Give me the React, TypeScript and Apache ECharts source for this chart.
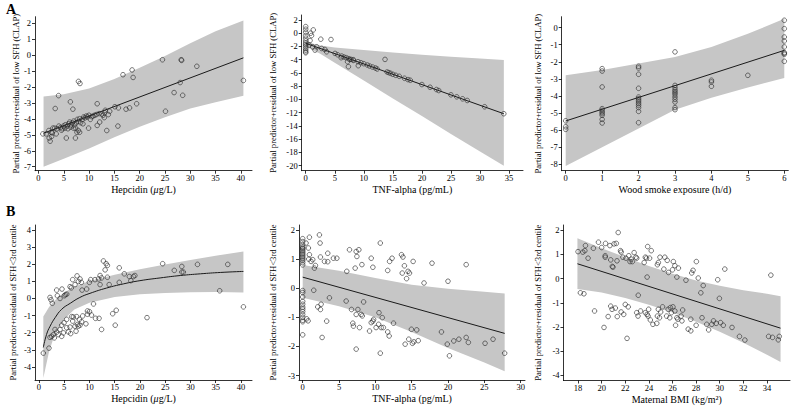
import React, { useEffect, useRef } from "react";
import * as echarts from "echarts";

// ---------- Panel A1: Hepcidin vs low SFH (CLAP) ----------
const a1Points: number[][] = [
  [0.86, -4.94], [3.97, -2.54], [3.3, -3.35], [7.9, -1.65], [8.2, -1.78], [6.3, -2.93], [6.8, -3.39],
  [11.6, -3.05], [16.7, -1.23], [18.5, -0.93], [18.7, -1.4], [24.5, -0.29], [28.2, -0.29], [28.3, -0.33],
  [31.3, -0.7], [28.0, -1.72], [26.8, -2.35], [28.5, -2.52], [40.5, -1.59], [19.4, -3.05], [25.1, -3.52],
  [18.0, -3.31], [17.3, -3.39], [15.8, -3.31], [15.1, -3.24], [15.7, -4.45], [13.5, -4.73], [13.8, -3.73],
  [13.0, -3.92], [13.2, -3.46], [11.6, -4.41], [12.1, -4.2], [9.9, -4.58], [7.3, -5.2], [5.5, -5.2],
  [2.1, -5.2], [2.3, -5.4], [2.6, -5.1],
  [1.52, -4.94], [2.05, -4.73], [2.51, -4.84], [2.84, -4.58], [3.17, -4.58], [3.64, -4.62], [4.03, -4.45],
  [4.36, -4.54], [4.69, -4.62], [4.96, -4.45], [5.29, -4.37], [5.69, -4.45], [5.95, -4.31], [6.15, -4.2],
  [6.35, -4.52], [6.68, -4.24], [6.94, -4.14], [7.14, -4.37], [7.47, -4.24], [7.67, -4.03], [7.87, -4.16],
  [8.13, -3.99], [8.33, -4.24], [8.66, -4.03], [8.93, -3.88], [9.19, -3.94], [9.45, -3.82], [9.72, -3.88],
  [9.98, -3.77], [10.25, -4.03], [10.51, -3.86], [10.78, -3.82], [11.11, -3.77], [11.44, -3.73], [11.97, -3.67],
  [12.5, -3.69], [12.76, -3.77], [13.09, -3.61], [14.08, -3.52], [7.87, -4.73], [7.6, -4.84], [8.13, -4.84],
  [5.22, -4.58], [4.56, -4.71], [2.71, -4.88], [3.5, -4.94], [5.82, -4.62], [6.94, -4.58], [6.48, -4.37],
  [7.34, -4.58], [8.79, -4.31],
];
const a1Line: number[][] = [[1, -4.9], [40.5, -0.17]];
const a1BandX = [1, 5, 10, 15, 20, 25, 30, 35, 40.5];
const a1BandUp = [-2.6, -2.45, -2.1, -1.5, -0.8, -0.05, 0.75, 1.5, 2.17];
const a1BandLo = [-7.0, -6.5, -5.85, -5.15, -4.5, -3.9, -3.35, -2.95, -2.55];

// ---------- Panel A2: TNF-alpha vs low SFH (CLAP) ----------
const a2Points: number[][] = [
  [0, 1.0], [0, 0.6], [0, 0.15], [0, -0.35], [0, -0.75], [0, -1.15], [0, -1.5], [0, -1.75], [0, -2.0],
  [0, -2.3], [0, -2.55], [0, -2.8], [0, -2.95],
  [0.85, 0.0], [1.0, -0.35], [1.3, 0.5], [0.75, -1.1], [0.6, -1.8], [1.2, -2.05], [1.6, -2.55], [2.6, -0.9],
  [4.35, -0.95], [2.75, -2.3], [1.9, -2.05], [3.3, -2.45], [3.6, -2.8], [5.05, -3.05], [13.65, -3.95],
  [7.35, -5.05], [9.05, -4.9], [6.1, -3.7], [7.2, -4.3], [7.6, -3.95], [8.2, -4.0],
  [5.5, -3.25], [6.2, -3.45], [6.6, -3.6], [7.0, -3.7], [7.4, -3.85], [7.8, -3.95], [8.2, -4.1], [9.0, -4.3],
  [9.5, -4.45], [10.0, -4.6], [10.6, -4.8], [11.0, -4.95], [11.5, -5.1], [12.0, -5.25], [12.3, -5.4],
  [14.0, -5.85], [14.3, -5.95], [14.6, -6.05], [15.0, -6.2], [15.5, -6.35], [16.1, -6.5], [17.0, -6.8],
  [17.6, -7.0], [18.0, -7.1], [20.0, -7.75], [21.4, -8.15], [22.5, -8.5], [22.9, -8.65], [25.0, -9.3],
  [26.0, -9.6], [27.0, -9.9], [27.8, -10.15], [30.8, -11.1], [34.1, -12.15],
];
const a2Line: number[][] = [[0, -1.52], [34.1, -12.15]];
const a2BandX = [0, 1, 2.5, 5, 10, 15, 20, 25, 30, 34.1];
const a2BandUp = [-1.15, -1.5, -1.85, -2.15, -2.55, -2.9, -3.25, -3.55, -3.8, -4.05];
const a2BandLo = [-1.95, -2.45, -3.1, -4.45, -7.15, -9.85, -12.5, -15.2, -17.85, -20.0];

// ---------- Panel A3: Wood smoke vs low SFH (CLAP) ----------
const a3Points: number[][] = [
  [0, -5.45], [0, -5.8], [0, -5.95],
  [1, -2.4], [1, -2.54], [1, -3.47], [1, -4.74], [1, -4.84], [1, -4.94], [1, -5.03], [1, -5.13], [1, -5.37], [1, -5.58],
  [2, -2.26], [2, -2.36], [2, -2.73], [2, -3.55], [2, -4.06], [2, -4.16], [2, -4.25], [2, -4.35], [2, -4.45],
  [2, -4.55], [2, -4.68], [2, -4.9], [2, -5.56],
  [3, -1.42], [3, -3.38], [3, -3.51], [3, -3.63], [3, -3.73], [3, -3.82], [3, -3.92], [3, -4.06], [3, -4.2],
  [3, -4.35], [3, -4.68], [3, -4.8],
  [4, -3.08], [4, -3.18], [4, -3.43],
  [5, -2.79],
  [6, 0.43], [6, -0.06], [6, -0.55], [6, -0.78], [6, -1.13], [6, -1.46], [6, -1.5], [6, -1.56], [6, -1.97],
];
const a3Line: number[][] = [[0, -5.46], [6, -1.33]];
const a3BandX = [0, 1, 2, 3, 4, 5, 6];
const a3BandUp = [-2.78, -2.48, -2.1, -1.72, -1.13, -0.36, 0.52];
const a3BandLo = [-8.1, -7.0, -5.9, -4.8, -4.1, -3.5, -2.95];

// ---------- Panel B1: Hepcidin vs SFH<3rd centile ----------
const b1Points: number[][] = [
  [0.86, -3.19], [1.98, -2.9], [2.18, 0.06], [2.38, -0.08], [2.64, -0.28], [3.5, 0.49], [3.64, 0.16], [4.17, 0],
  [4.56, 0.55], [5.02, 0.16], [5.22, 0.22], [5.5, 0.25], [6.15, 0.69], [6.4, 0.62], [6.68, 1.1], [7.14, 0.81],
  [7.54, 1.32], [7.8, 0.99], [8.13, 1.14], [8.4, 0.94], [8.53, 0.49], [9.45, 0.55], [9.98, 0.94], [10.25, 1.1],
  [11.1, 1.1], [11.8, 1.14], [12.1, 0.81], [12.4, 1.2], [12.76, 2.19], [13.3, 2.03], [13.55, 1.93], [13.1, 1.67],
  [13.9, 0.81], [13.55, 1.24], [12.1, 1.34], [15.9, 0.94], [15.9, 1.79], [16.9, 1.44], [17.9, 1.28], [18.2, 1.04],
  [18.7, 1.28], [19.0, 1.34], [24.5, 2.03], [26.8, 1.64], [28.3, 1.87], [28.3, 1.54], [28.6, 1.54], [31.4, 1.99],
  [37.4, 1.99], [35.8, 0.45], [40.5, -0.49], [21.4, -1.12], [15.1, -1.56], [15.3, -0.69], [14.6, -0.89],
  [12.4, -1.81], [10.8, -0.32], [11.9, -1.16], [11.2, -1.16], [10.4, -0.97], [10.0, -0.77], [9.6, -0.92],
  [9.3, -1.48], [8.66, -1.02], [8.46, -1.36], [8.13, -1.56], [7.6, -1.52], [7.14, -1.62], [6.8, -1.08],
  [6.68, -1.32], [6.15, -1.67], [5.82, -1.95], [5.49, -1.71], [4.96, -1.42], [4.83, -2.01], [4.5, -1.56],
  [4.17, -1.81], [3.83, -2.11], [3.5, -1.97], [3.17, -1.81], [2.84, -2.11], [3.04, -2.3], [2.51, -2.21],
  [2.18, -2.27], [4.5, -2.21], [7.34, -1.91], [7.8, -1.62], [6.28, -2.05], [8.0, -1.22], [5.49, -1.22],
  [6.48, -1.06], [7.47, -1.06], [9.6, -0.73],
];
const b1CurveX = [0.86, 1.5, 2.2, 3.2, 4.5, 6.2, 8.1, 10.1, 13.4, 16.7, 20, 24, 28, 32, 36, 40.5];
const b1CurveY = [-2.86, -2.1, -1.62, -1.12, -0.63, -0.28, 0.06, 0.3, 0.61, 0.85, 1.04, 1.2, 1.34, 1.44, 1.52, 1.58];
const b1BandX = [0.86, 2, 3, 5, 7, 10, 15, 20, 25, 30, 35, 40.5];
const b1BandUp = [-1.05, -0.5, -0.15, 0.35, 0.68, 1.02, 1.38, 1.7, 1.98, 2.25, 2.5, 2.75];
const b1BandLo = [-4.65, -3.1, -2.2, -1.22, -0.65, -0.25, 0.08, 0.24, 0.32, 0.37, 0.38, 0.35];

// ---------- Panel B2: TNF-alpha vs SFH<3rd centile ----------
const b2Points: number[][] = [
  [0, 1.7], [0, 1.6], [0, 1.5], [0, 1.42], [0, 1.38], [0, 1.35], [0, 1.3], [0, 1.25], [0, 1.2], [0, 1.15],
  [0, 1.1], [0, 1.05], [0, 1.0], [0, 0.95], [0, 0.88], [0, 0.8], [0, -0.08], [0, -0.15], [0, -0.3], [0, -0.45],
  [0, -0.55], [0, -0.65], [0, -0.72], [0, -0.8], [0, -0.9], [0, -1.0], [0, -1.1], [0, -1.15], [0, -1.6],
  [0.92, 1.75], [0.46, 1.55], [0.78, 1.38], [0.92, 1.15], [1.15, 0.92], [0.83, 1.0], [1.38, 0.98], [1.61, 0.69],
  [1.75, 0.78], [1.52, -0.07], [0.55, -1.05], [0.74, -1.12], [2.3, 1.83], [2.39, 1.55], [2.44, 1.07], [3.0, 0.92],
  [3.45, 1.2], [3.45, 0.91], [3.68, -0.33], [4.23, 1.03], [4.7, 1.03], [2.07, -0.64], [2.44, -0.73], [2.53, -0.55],
  [2.67, -1.69], [3.3, -1.13], [6.44, 1.32], [6.07, 0.58], [5.98, -0.44], [6.72, -0.73], [6.9, -1.2], [6.98, -1.3],
  [7.36, 1.26], [7.46, 1.09], [7.73, 1.32], [7.22, 0.69], [8.15, 0.81], [8.38, -0.47], [7.36, -0.9], [7.6, -0.73],
  [8.05, -0.9], [8.2, -0.95], [7.82, -1.35], [7.36, -2.09], [9.43, 1.03], [9.66, 0.72], [9.76, -1.07], [9.66, -1.13],
  [9.2, -1.47], [9.43, -1.18], [10.68, 1.55], [10.5, -0.84], [10.45, -1.24], [10.68, -2.23], [10.8, -1.35],
  [10.95, -1.01], [10.1, -1.35], [11.1, -1.35], [11.7, 0.61], [11.96, 0.92], [12.3, 1.03], [11.7, -1.5],
  [11.9, -1.64], [12.5, -1.2], [13.6, 1.15], [13.8, 1.07], [13.7, 0.52], [14.0, 0.77], [14.3, 0.33], [14.5, 0.58],
  [14.7, 0.52], [15.2, 0.92], [14.1, -1.92], [14.6, -1.75], [15.1, -1.89], [15.3, -1.84], [15.9, -1.8],
  [14.96, -1.41], [15.7, -1.43], [16.7, 0.18], [17.8, 0.86], [19.1, -1.5], [20.0, 0.24], [19.9, -1.92],
  [20.2, -2.32], [20.8, -1.81], [21.5, -1.75], [22.5, 0.81], [22.5, -1.69], [22.8, -1.86], [25.1, -1.89],
  [26.2, -1.75], [27.8, -2.23],
];
const b2Line: number[][] = [[0, 0.38], [27.8, -1.55]];
const b2BandX = [0, 5, 10, 15, 20, 25, 27.8];
const b2BandUp = [0.8, 0.6, 0.35, 0.12, -0.02, -0.12, -0.18];
const b2BandLo = [-0.33, -0.62, -1.0, -1.5, -2.05, -2.55, -2.85];

// ---------- Panel B3: Maternal BMI vs SFH<3rd centile ----------
const b3Points: number[][] = [
  [18, 1.11], [18.41, 1.09], [18.58, 1.15], [18.63, 1.36], [18.85, 0.84], [18.2, -0.59], [18.5, -0.63],
  [19.4, -1.34], [19.73, 1.5], [19.3, 1.25], [20, 1.28], [20.33, 1.45], [20.7, 1.36], [21.05, 1.43],
  [21.24, 1.45], [21.4, 1.9], [21.6, 1.15], [21.65, 1.09], [20.3, 0.94], [20.3, 0.88], [20.77, 0.77],
  [20.9, 0.5], [20.96, 0.47], [21.3, 0.73], [21.8, 0.88], [22.06, 0.84], [22.3, 0.94], [22.5, 0.8],
  [22.4, 0.7], [22.6, 0.7], [22.75, 1.07], [22.9, 0.88], [22.97, 0.84], [20.77, -1.14], [20.2, -2.02],
  [20.55, -1.57], [20.88, -1.27], [21.16, -1.22], [21.32, -1.57], [21.65, -1.38], [21.87, -1.48], [22, -1.07],
  [22.25, -1.17], [22.15, -2.47], [23.1, -0.69], [22.97, -1.41], [23.08, -1.55], [23.3, -1.34], [23.6, 0.66],
  [23.7, 0.88], [23.8, 0.84], [23.85, 0.06], [23.9, 1.32], [24.06, 0.84], [24.2, 1.15], [23.98, -1.27],
  [23.7, -1.41], [23.85, -1.48], [23.93, -1.55], [24.12, -1.71], [24.34, -1.89], [24.67, -1.85], [24.8, -1.27],
  [24.72, 0.57], [24.8, 0.66], [24.94, 0.88], [24.72, -1.55], [24.9, -1.62], [25, -1.38], [25.16, -1.17],
  [25.27, 0.39], [25.35, 0.88], [25.55, 0.75], [25.66, 0.25], [25.5, -1.55], [25.63, -1.27], [25.82, -1.2],
  [25.9, -1.41], [25.77, -1.62], [26.04, -1.17], [26.2, -1.34], [26, 0.36], [26.07, 0.7], [26.2, 0.53],
  [26.37, 0.06], [26.37, -1.62], [26.45, -1.68], [26.26, -1.93], [26.73, -1.55], [26.86, -1.3], [26.5, 0.43],
  [26.8, -1.75], [27.14, -0.07], [27.33, -2.09], [27.55, -2.16], [27.63, 0.23], [27.74, 0.34], [27.55, -1.68],
  [28, -1.93], [28.02, 0.7], [28.18, 0.02], [28.4, -0.59], [28.6, -0.29], [28.5, -1.62], [28.9, -1.89],
  [29.06, -2.12], [29.33, -1.89], [29.47, -1.75], [29.7, -1.85], [29.83, -0.05], [29.97, -0.82], [30.07, -1.82],
  [30.3, -1.93], [30.43, 0.39], [31.04, -2.02], [31.67, -2.39], [32.13, -2.54], [34.14, -2.39], [34.47, -2.43],
  [34.33, 0.14], [35.04, -2.39], [34.96, -2.53],
];
const b3Line: number[][] = [[17.95, 0.61], [35.15, -2.05]];
const b3BandX = [17.95, 20, 22, 24, 26, 28, 30, 32, 34, 35.15];
const b3BandUp = [1.66, 1.25, 0.88, 0.52, 0.2, -0.08, -0.3, -0.48, -0.63, -0.73];
const b3BandLo = [-0.43, -0.58, -0.8, -1.08, -1.4, -1.78, -2.2, -2.65, -3.15, -3.45];

// ---------- Axis ticks ----------
const ticksHep = [0, 5, 10, 15, 20, 25, 30, 35, 40];
const ticksTnfA = [0, 5, 10, 15, 20, 25, 30, 35];
const ticksWood = [0, 1, 2, 3, 4, 5, 6];
const ticksTnfB = [0, 5, 10, 15, 20, 25, 30];
const ticksBmi = [18, 20, 22, 24, 26, 28, 30, 32, 34];
const yTicksA1 = [-7, -6, -5, -4, -3, -2, -1, 0, 1, 2];
const yTicksA2 = [-20, -18, -16, -14, -12, -10, -8, -6, -4, -2, 0, 2];
const yTicksA3 = [-8, -7, -6, -5, -4, -3, -2, -1, 0];
const yTicksB1 = [-4, -3, -2, -1, 0, 1, 2, 3, 4];
const yTicksB2 = [-3, -2, -1, 0, 1, 2];
const yTicksB3 = [-4, -3, -2, -1, 0, 1, 2];

const yNameA = "Partial predictor+residual of low SFH (CLAP)";
const yNameB = "Partial predictor+residual of SFH<3rd centile";

const FONT = "Liberation Serif";
const BAND = "#c6c6c6";

type Panel = {
  grid: { left: number; top: number; width: number; height: number };
  xr: [number, number];
  yr: [number, number];
  xt: number[];
  yt: number[];
  xName: string;
  yName: string;
  yGap: number;
  points: number[][];
  line: number[][];
  smooth?: boolean;
  bx: number[];
  bu: number[];
  bl: number[];
};

const panels: Panel[] = [
  {
    grid: { left: 35, top: 16.7, width: 217, height: 154 },
    xr: [-0.69, 42.2], yr: [-7.25, 2.41], xt: ticksHep, yt: yTicksA1,
    xName: "Hepcidin ({i|μ}g/L)", yName: yNameA, yGap: 15,
    points: a1Points, line: a1Line, bx: a1BandX, bu: a1BandUp, bl: a1BandLo,
  },
  {
    grid: { left: 301.7, top: 15, width: 221.3, height: 155.7 },
    xr: [-0.69, 37.4], yr: [-20.75, 2.75], xt: ticksTnfA, yt: yTicksA2,
    xName: "TNF-alpha (pg/mL)", yName: yNameA, yGap: 24.5,
    points: a2Points, line: a2Line, bx: a2BandX, bu: a2BandUp, bl: a2BandLo,
  },
  {
    grid: { left: 561.7, top: 16.7, width: 226.6, height: 154 },
    xr: [-0.11, 6.11], yr: [-8.37, 0.64], xt: ticksWood, yt: yTicksA3,
    xName: "Wood smoke exposure (h/d)", yName: yNameA, yGap: 19,
    points: a3Points, line: a3Line, bx: a3BandX, bu: a3BandUp, bl: a3BandLo,
  },
  {
    grid: { left: 35, top: 225, width: 217, height: 155 },
    xr: [-0.79, 42.2], yr: [-4.76, 4.29], xt: ticksHep, yt: yTicksB1,
    xName: "Hepcidin ({i|μ}g/L)", yName: yNameB, yGap: 17.4,
    points: b1Points, line: b1CurveX.map((x, i) => [x, b1CurveY[i]]), smooth: true,
    bx: b1BandX, bu: b1BandUp, bl: b1BandLo,
  },
  {
    grid: { left: 299, top: 225, width: 226, height: 155 },
    xr: [-0.51, 30.6], yr: [-3.15, 2.17], xt: ticksTnfB, yt: yTicksB2,
    xName: "TNF-alpha (pg/mL)", yName: yNameB, yGap: 21.4,
    points: b2Points, line: b2Line, bx: b2BandX, bu: b2BandUp, bl: b2BandLo,
  },
  {
    grid: { left: 563.5, top: 225, width: 226.5, height: 155.5 },
    xr: [16.77, 35.95], yr: [-4.21, 2.21], xt: ticksBmi, yt: yTicksB3,
    xName: "Maternal BMI (kg/m²)", yName: yNameB, yGap: 21.4,
    points: b3Points, line: b3Line, bx: b3BandX, bu: b3BandUp, bl: b3BandLo,
  },
];

function buildOption() {
  const grids: any[] = [];
  const xAxes: any[] = [];
  const yAxes: any[] = [];
  const series: any[] = [];
  const axisLine = { show: true, onZero: false, lineStyle: { color: "#000", width: 0.8 } };
  const axisTickBase = { show: true, length: 3, inside: false, lineStyle: { color: "#000", width: 0.8 } };
  panels.forEach((p, i) => {
    grids.push({ ...p.grid, containLabel: false });
    xAxes.push({
      type: "value", gridIndex: i, min: p.xr[0], max: p.xr[1],
      axisLine, splitLine: { show: false },
      axisTick: { ...axisTickBase, customValues: p.xt },
      axisLabel: { customValues: p.xt, color: "#000", fontFamily: FONT, fontSize: 8.5, fontWeight: "normal", margin: 2.5, lineHeight: 9 },
      name: p.xName, nameLocation: "middle", nameGap: 13, nameMoveOverlap: false,
      nameTextStyle: {
        color: "#000", fontFamily: FONT, fontSize: 10, fontWeight: "normal", lineHeight: 11,
        rich: { i: { fontStyle: "italic", fontFamily: FONT, fontSize: 10, fontWeight: "normal", color: "#000", lineHeight: 11 } },
      },
    });
    yAxes.push({
      type: "value", gridIndex: i, min: p.yr[0], max: p.yr[1],
      axisLine, splitLine: { show: false },
      axisTick: { ...axisTickBase, customValues: p.yt },
      axisLabel: { customValues: p.yt, color: "#000", fontFamily: FONT, fontSize: 8.5, fontWeight: "normal", margin: 4 },
      name: p.yName, nameLocation: "middle", nameGap: p.yGap, nameRotate: 90, nameMoveOverlap: false,
      nameTextStyle: { color: "#000", fontFamily: FONT, fontSize: 8.6, fontWeight: "normal" },
    });
    const bx = p.bx, bu = p.bu, bl = p.bl;
    series.push({
      type: "custom", xAxisIndex: i, yAxisIndex: i, silent: true, z: 1,
      data: [[bx[0], bu[0]]],
      renderItem: (_params: any, api: any) => {
        const pts: number[][] = [];
        for (let k = 0; k < bx.length; k++) pts.push(api.coord([bx[k], bu[k]]));
        for (let k = bx.length - 1; k >= 0; k--) pts.push(api.coord([bx[k], bl[k]]));
        return { type: "polygon", shape: { points: pts }, style: { fill: BAND, stroke: "none" } };
      },
    });
    series.push({
      type: "line", xAxisIndex: i, yAxisIndex: i, data: p.line, showSymbol: false, smooth: !!p.smooth,
      lineStyle: { color: "#1a1a1a", width: 1 }, z: 2, silent: true,
    });
    series.push({
      type: "scatter", xAxisIndex: i, yAxisIndex: i, data: p.points, symbol: "circle", symbolSize: 4.6,
      itemStyle: { color: "rgba(255,255,255,0)", borderColor: "#2a2a2a", borderWidth: 0.8 }, z: 3, silent: true,
    });
  });
  return {
    animation: false,
    backgroundColor: "#fff",
    textStyle: { fontFamily: FONT },
    grid: grids,
    xAxis: xAxes,
    yAxis: yAxes,
    series,
    graphic: [
      { type: "text", left: 6, top: 2, style: { text: "A", font: `bold 14px "${FONT}"`, fill: "#000" } },
      { type: "text", left: 6, top: 204, style: { text: "B", font: `bold 14px "${FONT}"`, fill: "#000" } },
    ],
  };
}

export default function App() {
  const ref = useRef<HTMLDivElement>(null);
  useEffect(() => {
    if (!ref.current) return;
    const chart = echarts.init(ref.current, undefined, { renderer: "svg" });
    chart.setOption(buildOption() as any);
    return () => chart.dispose();
  }, []);
  return <div ref={ref} style={{ position: "absolute", left: 0, top: 0, width: 794, height: 408, background: "#fff" }} />;
}
